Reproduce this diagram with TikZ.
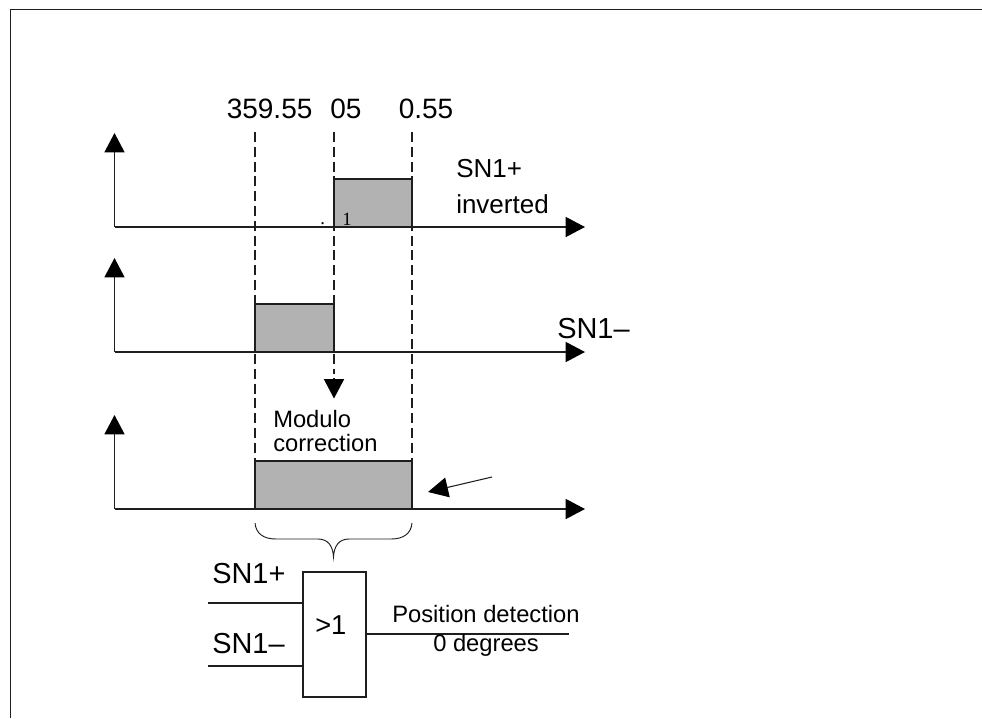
\documentclass[tikz,border=0pt]{standalone}
\usepackage{fontspec}
\setmainfont{Liberation Sans}
\newfontfamily\serifone{Liberation Serif}
\usepackage{xcolor}
\usetikzlibrary{arrows.meta,positioning,calc}
\definecolor{softgray}{RGB}{178,178,178}
\definecolor{softblack}{RGB}{30,30,30}
\tikzset{
  axis/.style={-{Triangle[length=14.5pt,width=15pt,color=black]}, line width=1.1pt, draw=softblack},
  guide/.style={dash pattern=on 7.5pt off 3.6pt, line width=1.1pt, draw=softblack},
  pulse/.style={rectangle, draw=softblack, line width=1.1pt, fill=softgray, inner sep=0pt, outer sep=0pt},
  gate/.style={rectangle, draw=softblack, line width=1.1pt, fill=white, inner sep=0pt, outer sep=0pt, minimum width=47.25pt, minimum height=93.75pt},
  wire/.style={line width=1.1pt, draw=softblack},
  big/.style={anchor=base west, inner sep=0pt, font=\fontsize{21}{21}\selectfont},
  sig/.style={anchor=base west, inner sep=0pt, font=\fontsize{21.7}{27}\selectfont},
  mid/.style={anchor=base west, inner sep=0pt, font=\fontsize{19.5}{27}\selectfont},
  small/.style={anchor=base west, inner sep=0pt, font=\fontsize{17.8}{24}\selectfont},
  tiny/.style={anchor=base west, inner sep=0pt, font=\serifone\fontsize{14}{14}\selectfont}
}
\begin{document}
\begin{tikzpicture}[x=0.75pt, y=-0.75pt]
\useasboundingbox (0,0) rectangle (982,718);
% frame
\draw[wire] (10.5,718) -- (10.5,9.5) -- (982,9.5);
% pulses
\node[pulse, minimum width=58.5pt, minimum height=36pt] (high) at (373,203) {};
\node[pulse, minimum width=59.25pt, minimum height=36pt] (low) at (294.5,328) {};
\node[pulse, minimum width=117.75pt, minimum height=36pt] (both) at (333.5,485) {};
% axes
\foreach \name/\y/\tip in {a/227/133, b/352/258, c/509/415} {
  \coordinate (\name o) at (114.5,\y);
  \draw[axis] (\name o) -- (114.5,\tip);
  \draw[axis] (\name o) -- (585,\y);
}
% dashed guides
\coordinate (g1) at (255,132);
\coordinate (g2) at (334,132);
\coordinate (g3) at (412,132);
\coordinate (drop) at (334,398.5);
\draw[guide] (g1) -- (both.north west);
\draw[guide] (g3) -- (both.north east);
\draw[guide] (g2) -- (334,374);
\draw[axis] (334,378) -- (drop);
% labels
\node[big] (t1) at (226.5,118) {359.55};
\node[big] (t2) at (330,118) {05};
\node[big] (t3) at (398.5,118) {0.55};
\node[mid] (sn1) at (456,177) {SN1+};
\node[mid] (inv) at (456,213) {inverted};
\node[sig] (sn2) at (557,338) {SN1--};
\node[small] (mod) at (273,427) {Modulo};
\node[small] (cor) at (273,451) {correction};
\node[tiny] (one) at (342,225) {1};
\node[tiny] (dot) at (320,224) {.};
% pointer
\coordinate (ptr) at (492,477);
\coordinate (ptrend) at (428,492);
\draw[-{Triangle[length=15pt,width=15pt,color=black]}, line width=0.8pt, draw=softblack] (ptr) -- (ptrend);
% brace
\draw[line width=0.7pt, draw=softblack] (255,523) .. controls (256,534) and (264,539) .. (276,539) -- (318,539) .. controls (328,539) and (333,546) .. (333.5,557) .. controls (334,546) and (339,539) .. (349,539) -- (391,539) .. controls (403,539) and (411,534) .. (412,523);
% gate
\node[gate] (or) at (334.5,634.5) {};
\node[big, font=\fontsize{20.5}{20.5}\selectfont] (gt) at (315,634) {>1};
\coordinate (in1) at (208,603);
\coordinate (in2) at (208,666);
\coordinate (out) at (569,634);
\draw[wire] (in1) -- (in1 -| or.west);
\draw[wire] (in2) -- (in2 -| or.west);
\draw[wire] (out -| or.east) -- (out);
\node[sig] (s1) at (212,583) {SN1+};
\node[sig] (s2) at (212,653) {SN1--};
\node[small] (pos) at (392,622) {Position detection};
\node[small] (deg) at (433,651) {0 degrees};
\end{tikzpicture}
\end{document}
